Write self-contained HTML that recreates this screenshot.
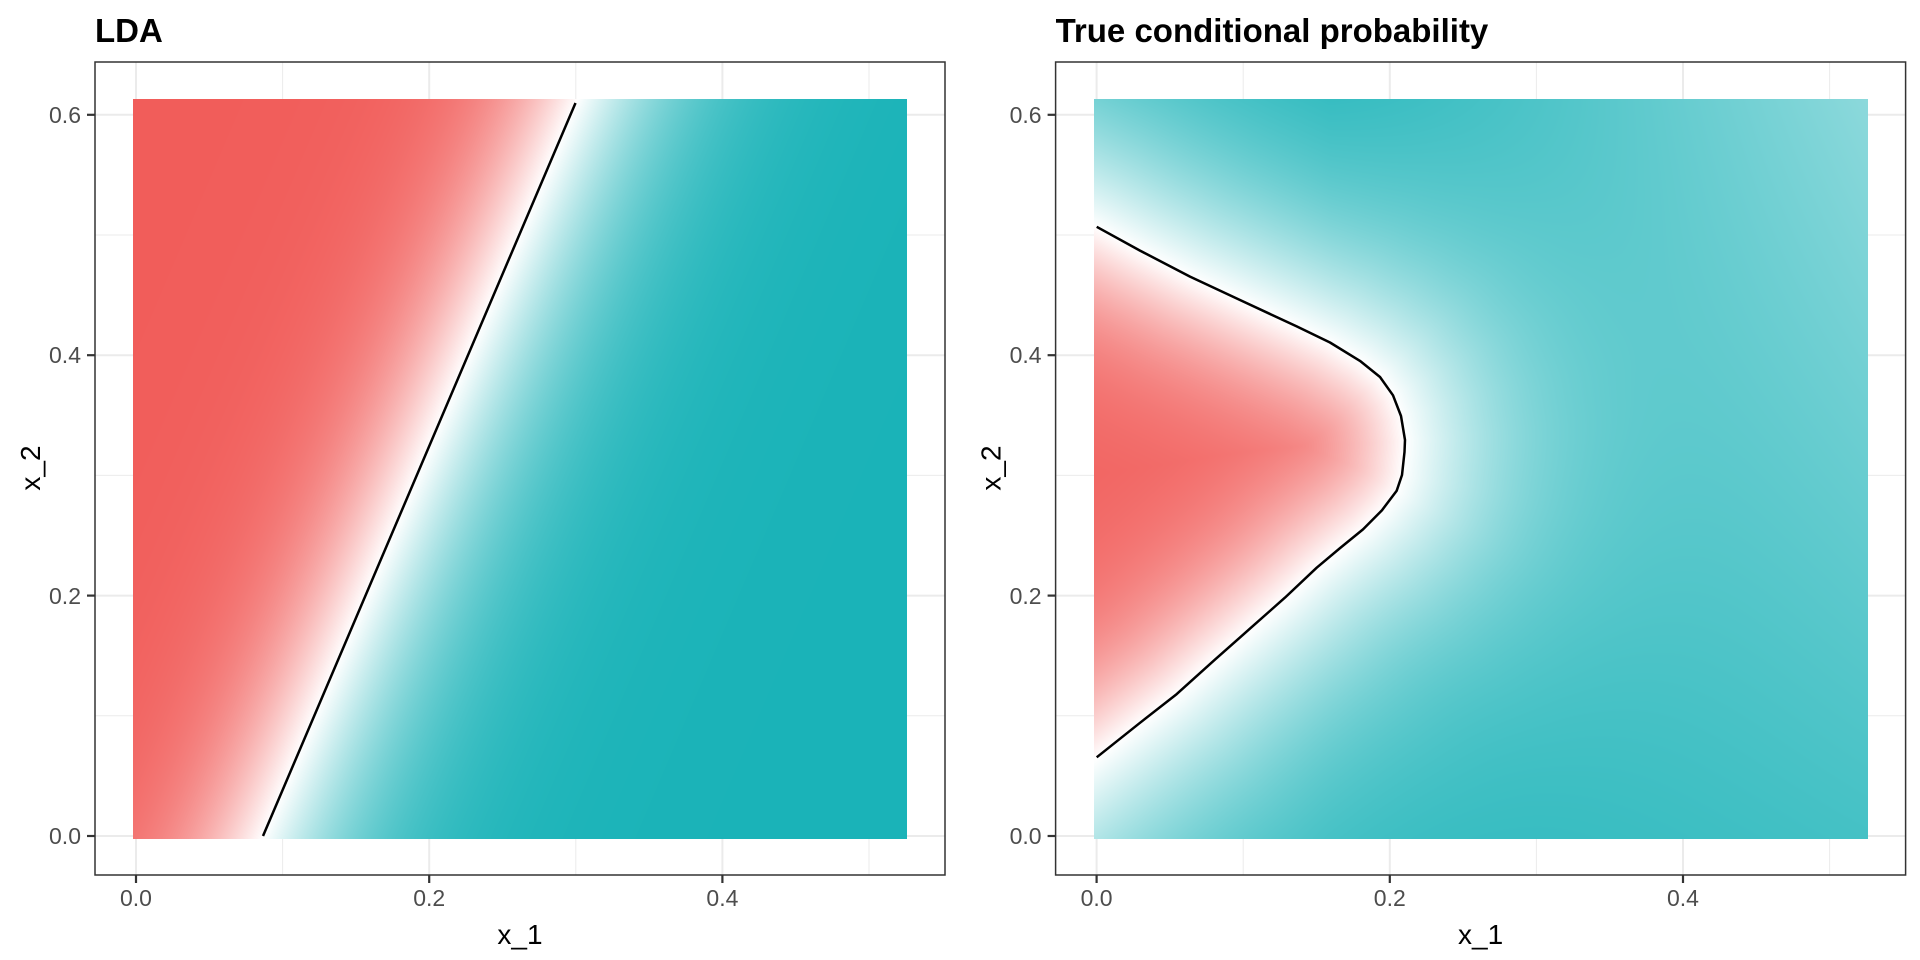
<!DOCTYPE html>
<html><head><meta charset="utf-8"><style>
html,body{margin:0;padding:0;background:#fff;width:1920px;height:960px;overflow:hidden}
.l{position:absolute;left:0;top:0}
canvas{position:absolute}
</style></head><body>
<svg class="l" width="1920" height="960">
<g stroke="#EBEBEB" fill="none">
<g stroke-width="1">
<line x1="95" x2="945" y1="715.8" y2="715.8"/><line x1="95" x2="945" y1="475.4" y2="475.4"/><line x1="95" x2="945" y1="235" y2="235"/>
<line y1="62" y2="875" x1="282.6" x2="282.6"/><line y1="62" y2="875" x1="575.8" x2="575.8"/><line y1="62" y2="875" x1="869" x2="869"/>
<line x1="1055.6" x2="1905.6" y1="715.8" y2="715.8"/><line x1="1055.6" x2="1905.6" y1="475.4" y2="475.4"/><line x1="1055.6" x2="1905.6" y1="235" y2="235"/>
<line y1="62" y2="875" x1="1243.2" x2="1243.2"/><line y1="62" y2="875" x1="1536.4" x2="1536.4"/><line y1="62" y2="875" x1="1829.6" x2="1829.6"/>
</g>
<g stroke-width="2">
<line x1="95" x2="945" y1="836" y2="836"/><line x1="95" x2="945" y1="595.6" y2="595.6"/><line x1="95" x2="945" y1="355.2" y2="355.2"/><line x1="95" x2="945" y1="114.8" y2="114.8"/>
<line y1="62" y2="875" x1="136" x2="136"/><line y1="62" y2="875" x1="429.2" x2="429.2"/><line y1="62" y2="875" x1="722.4" x2="722.4"/>
<line x1="1055.6" x2="1905.6" y1="836" y2="836"/><line x1="1055.6" x2="1905.6" y1="595.6" y2="595.6"/><line x1="1055.6" x2="1905.6" y1="355.2" y2="355.2"/><line x1="1055.6" x2="1905.6" y1="114.8" y2="114.8"/>
<line y1="62" y2="875" x1="1096.6" x2="1096.6"/><line y1="62" y2="875" x1="1389.8" x2="1389.8"/><line y1="62" y2="875" x1="1683" x2="1683"/>
</g></g></svg>
<canvas id="c1" width="774" height="740" style="left:133px;top:99px"></canvas>
<canvas id="c2" width="774" height="740" style="left:1094px;top:99px"></canvas>
<svg class="l" width="1920" height="960" font-family="Liberation Sans, sans-serif">
<line x1="263" y1="836" x2="575.5" y2="103" stroke="#000" stroke-width="2.5"/>
<polyline id="cv" fill="none" stroke="#000" stroke-width="2.5" stroke-linejoin="round" points="1096.7,226.8 1140,250.6 1190,276.6 1240,300 1296.7,326.4 1330,342.5 1360,360.9 1380,377 1393,395.3 1401,416 1405,440 1404.5,452 1402,475 1396.7,490.7 1382,510.2 1363,529.4 1340,548.1 1316.7,567.7 1285,597.6 1250,628.6 1215,659.6 1176.7,694.1 1140,722.8 1096.7,757.3"/>
<g fill="none" stroke="#333" stroke-width="1.5">
<rect x="95" y="62" width="850" height="813"/><rect x="1055.6" y="62" width="850" height="813"/>
</g>
<g stroke="#333" stroke-width="2.2">
<line x1="87" x2="95" y1="836" y2="836"/><line x1="87" x2="95" y1="595.6" y2="595.6"/><line x1="87" x2="95" y1="355.2" y2="355.2"/><line x1="87" x2="95" y1="114.8" y2="114.8"/>
<line y1="875" y2="883" x1="136" x2="136"/><line y1="875" y2="883" x1="429.2" x2="429.2"/><line y1="875" y2="883" x1="722.4" x2="722.4"/>
<line x1="1047.6" x2="1055.6" y1="836" y2="836"/><line x1="1047.6" x2="1055.6" y1="595.6" y2="595.6"/><line x1="1047.6" x2="1055.6" y1="355.2" y2="355.2"/><line x1="1047.6" x2="1055.6" y1="114.8" y2="114.8"/>
<line y1="875" y2="883" x1="1096.6" x2="1096.6"/><line y1="875" y2="883" x1="1389.8" x2="1389.8"/><line y1="875" y2="883" x1="1683" x2="1683"/>
</g>
<g fill="#4D4D4D" font-size="23">
<g text-anchor="end">
<text x="81" y="844">0.0</text><text x="81" y="604">0.2</text><text x="81" y="363">0.4</text><text x="81" y="123">0.6</text>
<text x="1041.6" y="844">0.0</text><text x="1041.6" y="604">0.2</text><text x="1041.6" y="363">0.4</text><text x="1041.6" y="123">0.6</text>
</g>
<g text-anchor="middle">
<text x="136" y="906">0.0</text><text x="429.2" y="906">0.2</text><text x="722.4" y="906">0.4</text>
<text x="1096.6" y="906">0.0</text><text x="1389.8" y="906">0.2</text><text x="1683" y="906">0.4</text>
</g></g>
<g fill="#000" font-size="28" text-anchor="middle">
<text x="520" y="944">x_1</text><text x="1480.6" y="944">x_1</text>
<text transform="translate(40,468) rotate(-90)">x_2</text>
<text transform="translate(1000.6,468) rotate(-90)">x_2</text>
</g>
<g fill="#000" font-size="33" font-weight="bold">
<text x="95" y="42">LDA</text><text x="1055.6" y="42">True conditional probability</text>
</g>
</svg>
<script>
var R=[241,93,90],T=[26,179,184];
function mix(c,t){return [255+(c[0]-255)*t,255+(c[1]-255)*t,255+(c[2]-255)*t];}
function draw(id,ox,oy,f){
 var cv=document.getElementById(id),ctx=cv.getContext('2d'),W=cv.width,H=cv.height;
 var im=ctx.createImageData(W,H),d=im.data;
 for(var y=0;y<H;y++)for(var x=0;x<W;x++){
  var c=f(x+ox,y+oy),i=(y*W+x)*4;d[i]=c[0];d[i+1]=c[1];d[i+2]=c[2];d[i+3]=255;}
 ctx.putImageData(im,0,0);
}
(function(){
 var ax=263,ay=836,bx=575.5,by=103,dx=bx-ax,dy=by-ay,L=Math.hypot(dx,dy);
 var nx=-dy/L,ny=dx/L;
 draw('c1',133,99,function(x,y){
  var s=(x-ax)*nx+(y-ay)*ny;
  return s<0?mix(R,Math.tanh(-s/95)):mix(T,Math.tanh(s/120));
 });
})();
(function(){
 var pts=document.getElementById('cv').getAttribute('points').trim().split(/\s+/).map(function(p){return p.split(',').map(Number)});
 var P=[[1096.7-2.0*300,226.8-300]].concat(pts);P.push([1096.7-1.25*300,757.3+300]);
 function xb(y){
  for(var k=0;k<P.length-1;k++){var a=P[k],b=P[k+1];
   if(y>=a[1]&&y<=b[1]){var u=(y-a[1])/(b[1]-a[1]||1);return a[0]+u*(b[0]-a[0]);}}
  return 0;}
 var XB=[];for(var y=0;y<960;y++)XB[y]=xb(y);
 draw('c2',1094,99,function(x,y){
  var best=1e9;
  for(var k=0;k<P.length-1;k++){var a=P[k],b=P[k+1],ex=b[0]-a[0],ey=b[1]-a[1];
   var u=((x-a[0])*ex+(y-a[1])*ey)/(ex*ex+ey*ey);u=Math.max(0,Math.min(1,u));
   var qx=a[0]+u*ex-x,qy=a[1]+u*ey-y,dd=qx*qx+qy*qy;if(dd<best)best=dd;}
  var dist=Math.sqrt(best),inside=x<XB[Math.round(y)];
  if(inside){
   return mix(R,Math.tanh(dist/105)*0.97);
  } else {
   var t=Math.tanh(dist/165);
   var yf=(y-99)/740;
   var m=1-0.5*Math.max(0,(x-1330)/540)*(1-0.75*yf)-0.06*yf;
   return mix(T,t*m);
  }
 });
})();
</script>
</body></html>
